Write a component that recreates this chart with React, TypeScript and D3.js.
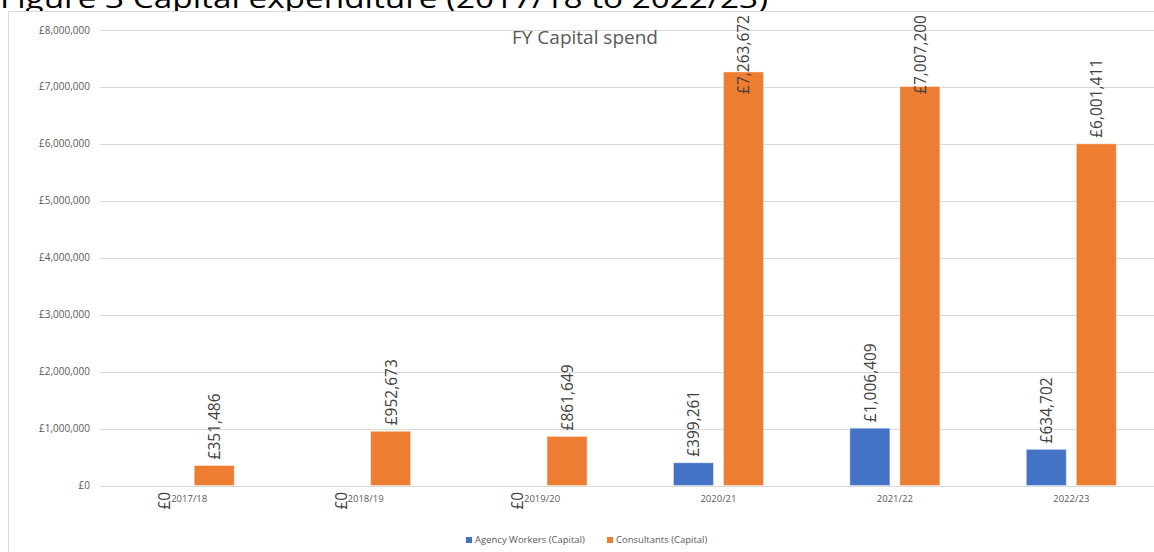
import React, { useEffect, useRef } from "react";
import * as d3 from "d3";

const categories = ["2017/18", "2018/19", "2019/20", "2020/21", "2021/22", "2022/23"];
const seriesNames = ["Agency Workers (Capital)", "Consultants (Capital)"];
const agencyValues = [0, 0, 0, 399261, 1006409, 634702];
const consultantValues = [351486, 952673, 861649, 7263672, 7007200, 6001411];
const yTicks = [0, 1000000, 2000000, 3000000, 4000000, 5000000, 6000000, 7000000, 8000000];
const seriesColors = ["#4472C4", "#ED7D31"];

const W = 1154;
const H = 552;
const FONT = "'Open Sans', 'Noto Sans', sans-serif";

export default function App() {
  const ref = useRef<SVGSVGElement | null>(null);

  useEffect(() => {
    const svg = d3.select(ref.current);
    svg.selectAll("*").remove();

    const fmt = (v: number) => "£" + d3.format(",")(v);

    // outer figure title (partially cut off)
    svg
      .append("text")
      .attr("x", 0)
      .attr("y", 8)
      .attr("font-family", FONT)
      .attr("font-size", 27)
      .attr("fill", "#000")
      .attr("textLength", 768)
      .attr("lengthAdjust", "spacingAndGlyphs")
      .text("Figure 3 Capital expenditure (2017/18 to 2022/23)");

    // chart area border
    svg
      .append("rect")
      .attr("x", 8.5)
      .attr("y", 11.5)
      .attr("width", W + 20)
      .attr("height", H + 20)
      .attr("fill", "#fff")
      .attr("stroke", "#d9d9d9")
      .attr("stroke-width", 1);

    const y = d3.scaleLinear().domain([0, 8000000]).range([485.5, 30]);
    const x0 = d3.scaleBand<string>().domain(categories).range([101, 1159.5]).padding(0);
    const inner = 90;
    const x1 = d3
      .scaleBand<string>()
      .domain(seriesNames)
      .range([(x0.bandwidth() - inner) / 2, (x0.bandwidth() + inner) / 2])
      .paddingInner(0.2);

    // gridlines
    svg
      .append("g")
      .selectAll("line")
      .data(yTicks)
      .join("line")
      .attr("x1", 100)
      .attr("x2", W)
      .attr("y1", (d) => Math.round(y(d)) + 0.5)
      .attr("y2", (d) => Math.round(y(d)) + 0.5)
      .attr("stroke", "#d9d9d9")
      .attr("stroke-width", 1);

    // y tick labels
    svg
      .append("g")
      .selectAll("text")
      .data(yTicks)
      .join("text")
      .attr("x", 90)
      .attr("y", (d) => y(d))
      .attr("dy", "0.35em")
      .attr("text-anchor", "end")
      .attr("font-family", FONT)
      .attr("font-size", 10)
      .attr("fill", "#595959")
      .text((d) => fmt(d));

    // chart title
    svg
      .append("text")
      .attr("x", 585)
      .attr("y", 44)
      .attr("text-anchor", "middle")
      .attr("font-family", FONT)
      .attr("font-size", 19)
      .attr("fill", "#595959")
      .text("FY Capital spend");

    const seriesData = [agencyValues, consultantValues];
    const rows = categories.map((c, i) => ({
      cat: c,
      vals: seriesNames.map((s, k) => ({ s, k, v: seriesData[k][i] })),
    }));

    const groups = svg
      .append("g")
      .selectAll("g")
      .data(rows)
      .join("g")
      .attr("transform", (d) => `translate(${x0(d.cat)},0)`);

    groups
      .selectAll("rect")
      .data((d) => d.vals.filter((e) => e.v > 0))
      .join("rect")
      .attr("x", (d) => x1(d.s)!)
      .attr("width", x1.bandwidth())
      .attr("y", (d) => y(d.v))
      .attr("height", (d) => y(0) - y(d.v))
      .attr("fill", (d) => seriesColors[d.k])
      .attr("stroke", "#fff")
      .attr("stroke-opacity", 0.4)
      .attr("stroke-width", 1);

    // data labels
    groups.each(function (d) {
      const g = d3.select(this);
      d.vals.forEach((e) => {
        const cx = x1(e.s)! + x1.bandwidth() / 2;
        const t = g
          .append("text")
          .attr("font-family", FONT)
          .attr("font-size", 15.5)
          .attr("fill", "#404040")
          .attr("text-anchor", "start")
          .attr("dominant-baseline", "central")
          .text(fmt(e.v));
        const len = (t.node() as SVGTextElement).getComputedTextLength();
        let bottom: number;
        if (e.v === 0) bottom = y(0) + 24;
        else bottom = Math.max(y(e.v) - 6, 15 + len);
        t.attr("transform", `translate(${cx},${bottom}) rotate(-90)`);
      });
    });

    // category labels
    svg
      .append("g")
      .selectAll("text")
      .data(categories)
      .join("text")
      .attr("x", (d) => x0(d)! + x0.bandwidth() / 2)
      .attr("y", 502)
      .attr("text-anchor", "middle")
      .attr("font-family", FONT)
      .attr("font-size", 9.5)
      .attr("fill", "#595959")
      .text((d) => d);

    // legend
    const legendX = [466, 607];
    const lg = svg
      .append("g")
      .selectAll("g")
      .data(seriesNames)
      .join("g")
      .attr("transform", (_d, i) => `translate(${legendX[i]},537)`);
    lg.append("rect")
      .attr("width", 6)
      .attr("height", 6)
      .attr("fill", (_d, i) => seriesColors[i]);
    lg.append("text")
      .attr("x", 9)
      .attr("y", 3)
      .attr("dy", "0.35em")
      .attr("font-family", FONT)
      .attr("font-size", 9.5)
      .attr("fill", "#595959")
      .text((d) => d);
  }, []);

  return (
    <svg
      ref={ref}
      width={W}
      height={H}
      style={{ position: "absolute", left: 0, top: 0, display: "block", background: "#fff" }}
    />
  );
}
